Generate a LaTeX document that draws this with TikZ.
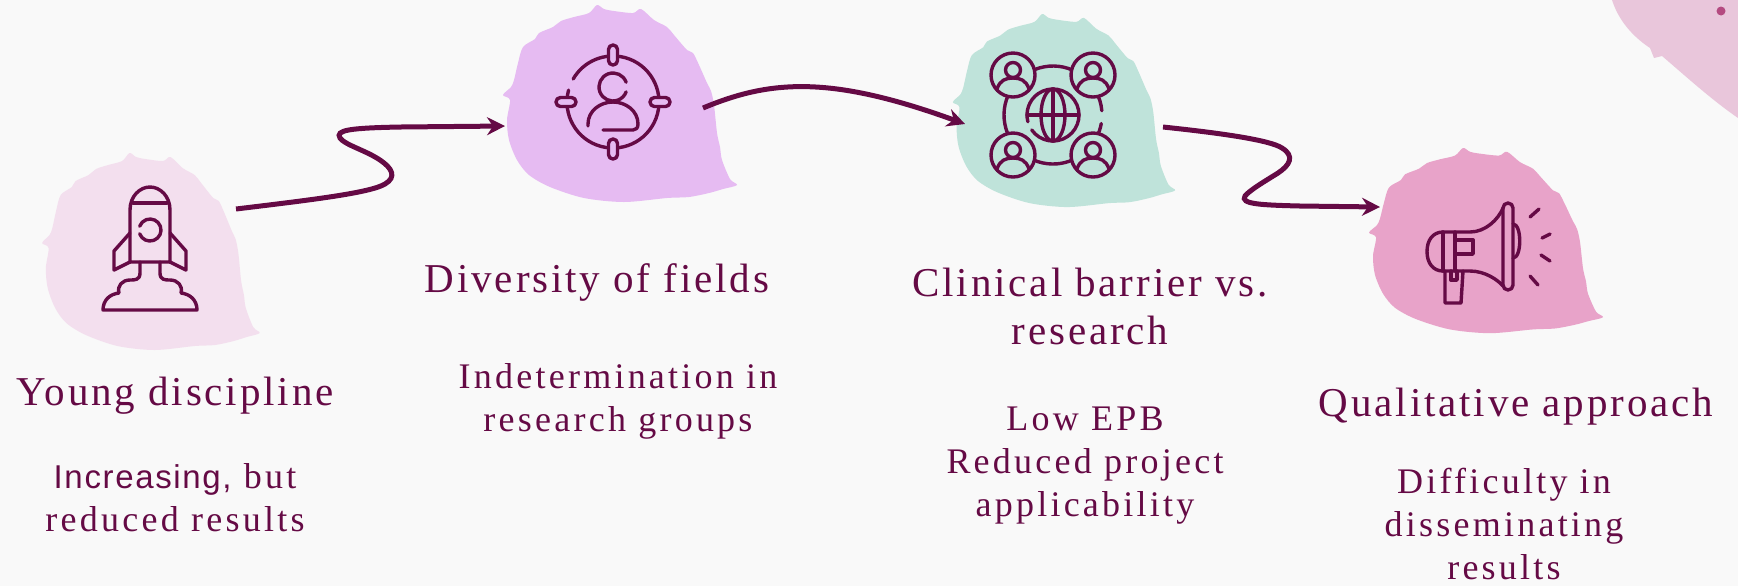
\documentclass[tikz,border=0pt]{standalone}
\usepackage{fontspec}
\setmainfont{Liberation Serif}
\newfontfamily\ttlfont[LetterSpace=7]{Liberation Serif}
\newfontfamily\subfont[LetterSpace=9]{Liberation Serif}
\newfontfamily\incfont[LetterSpace=5]{Liberation Sans}
\usetikzlibrary{arrows.meta}

\definecolor{plum}{HTML}{650A45}
\definecolor{paper}{HTML}{F9F9F9}
\definecolor{rocketpink}{HTML}{F3DFEE}
\definecolor{lilac}{HTML}{E6BBF2}
\definecolor{mint}{HTML}{BFE3DA}
\definecolor{rose}{HTML}{E8A3C9}
\definecolor{blush}{HTML}{E9C6DB}
\definecolor{dotpink}{HTML}{B44A80}

\tikzset{
  icon/.style={draw=plum, line width=1.7pt, line cap=round, line join=round},
  flow/.style={draw=plum, line width=2.5pt, -{Stealth[length=9pt,width=9pt,inset=3pt]}},
  title/.style={text=plum, font=\ttlfont\fontsize{20.5}{24}\selectfont, align=center, inner sep=0pt},
  note/.style={text=plum, font=\subfont\fontsize{18}{21.5}\selectfont, align=center, inner sep=0pt},
}

% brush splash: centre x, centre y, x scale, y scale, colour
\newcommand{\splash}[5]{%
  \fill[#5, shift={(#1,#2)}, xscale=#3, yscale=#4]
    plot[smooth cycle, tension=0.5] coordinates {
      (-96,58) (-84,66) (-80,72) (-66,78) (-58,84) (-45,88) (-30,92) (-22,100)
      (-15,96) (-5,94) (14,92) (22,96) (35,85) (48,78) (55,70) (68,55) (74,52)
      (80,40) (88,22) (92,14) (95,0) (98,-28) (101,-42) (103,-55) (111,-74)
      (118,-80) (104,-84) (90,-88) (70,-92) (48,-93) (5,-97) (-35,-93) (-69,-82)
      (-90,-70) (-102,-55) (-110,-35) (-112,-15) (-109,5) (-116,10) (-108,18)
      (-105,25) (-101,42)};}
% sans word inside a serif note
\newcommand{\sansword}[1]{{\incfont\fontsize{16.5}{21.5}\selectfont #1}}

\begin{document}
\begin{tikzpicture}[x=0.5pt, y=0.5pt]
\useasboundingbox (0,0) rectangle (1738,-586);
\fill[paper] (0,0) rectangle (1738,-586);

% splashes behind the icons
\splash{150}{-253}{0.93}{1.0}{rocketpink}
\splash{619}{-105}{1.0}{1.0}{lilac}
\splash{1063}{-112}{0.95}{0.98}{mint}
\splash{1485}{-242}{1.0}{0.94}{rose}

% corner splash
\fill[blush] (1612,0) .. controls (1620,-25) and (1638,-40) .. (1650,-48)
  -- (1654,-58) -- (1662,-56) .. controls (1690,-80) and (1712,-100) .. (1738,-118)
  -- (1738,0) -- cycle;
\fill[dotpink] (1721,-11) circle[radius=4.5];

% rocket
\begin{scope}[shift={(150,-250)}]
  \draw[icon] (-20,-12) -- (-20,40) .. controls (-20,54) and (-10,63) .. (0,63)
    .. controls (10,63) and (20,54) .. (20,40) -- (20,-12) -- cycle;
  \draw[icon] (-17,47) -- (17,47);
  \draw[icon] (0,20) ++(200:11) arc[start angle=200, end angle=520, radius=11];
  \draw[icon] (-20,17) -- (-36,-1) -- (-36,-20) -- (-20,-12);
  \draw[icon] (20,17) -- (36,-1) -- (36,-20) -- (20,-12);
  \draw[icon] (-10,-12) -- (-10,-23) .. controls (-10,-30) and (-15,-30) .. (-20,-30)
    .. controls (-28,-30) and (-33,-36) .. (-31,-43)
    .. controls (-40,-44) and (-47,-50) .. (-47,-60) -- (47,-60)
    .. controls (47,-50) and (40,-44) .. (31,-43)
    .. controls (33,-36) and (28,-30) .. (20,-30)
    .. controls (15,-30) and (10,-30) .. (10,-23) -- (10,-12);
\end{scope}

% target with person
\begin{scope}[shift={(613,-102)}]
  \draw[icon] (165:46) arc[start angle=165, end angle=510, radius=46];
  \foreach \a in {0,90,180,270}
    \draw[icon, fill=lilac, rotate=\a, rounded corners=2.2pt] (37,-4.5) rectangle (57,4.5);
  \draw[icon] (0,15) ++(20:14) arc[start angle=20, end angle=340, radius=14];
  \draw[icon] (-10,-28) -- (20,-28) .. controls (23,-28) and (25,-26) .. (25,-22)
    .. controls (25,-9) and (13,0) .. (0,0) .. controls (-13,0) and (-25,-9) .. (-25,-22) -- (-25,-24);
\end{scope}

% network around a globe
\begin{scope}[shift={(1053,-115)}]
  \draw[icon] (5:49) arc[start angle=5, end angle=350, radius=49];
  \foreach \sx/\sy in {-40/40, 40/40, -40/-40, 40/-40}{
    \begin{scope}[shift={(\sx,\sy)}]
      \draw[icon, fill=mint] (0,0) circle[radius=22];
      \draw[icon] (0,5) circle[radius=7.5];
      \draw[icon] (-16,-14) .. controls (-13,-5) and (-7,-3) .. (0,-3)
        .. controls (7,-3) and (13,-5) .. (16,-14);
    \end{scope}}
  \draw[icon] (215:26) arc[start angle=215, end angle=555, radius=26];
  \draw[icon] (0,0) ellipse[x radius=12, y radius=26];
  \draw[icon] (0,-26) -- (0,26);
  \draw[icon] (-26,0) -- (26,0);
\end{scope}

% megaphone
\begin{scope}[shift={(1480,-250)}]
  \draw[icon, rounded corners=2.5pt] (23,-40) rectangle (33,47);
  \draw[icon] (-37,18) .. controls (-47,18) and (-53,10) .. (-53,-1.5)
    .. controls (-53,-13) and (-47,-21) .. (-37,-21);
  \draw[icon] (-37,18) -- (-10,18) .. controls (5,18) and (18,30) .. (23,42);
  \draw[icon] (-37,-21) -- (-10,-21) .. controls (5,-21) and (18,-30) .. (23,-36);
  \draw[icon] (-37,18) -- (-37,-21);
  \draw[icon] (-25,18) -- (-25,-21);
  \draw[icon] (-25,10) rectangle (-7,-4);
  \draw[icon] (-35,-21) -- (-35,-53) -- (-19,-53) -- (-17,-21);
  \draw[icon] (-29,-21) -- (-29,-30) -- (-23,-30) -- (-23,-21);
  \draw[icon] (33,26) .. controls (42,26) and (42,-8) .. (33,-8);
  \draw[icon] (50,33) -- (59,41);
  \draw[icon] (62,12) -- (70,16);
  \draw[icon] (61,-5) -- (70,-11);
  \draw[icon] (50,-26) -- (58,-35);
\end{scope}

% connector ends
\coordinate (rocket-out) at (236,-209);
\coordinate (target-in) at (505,-126);
\coordinate (target-out) at (703,-108);
\coordinate (globe-in) at (965,-124);
\coordinate (globe-out) at (1163,-127);
\coordinate (horn-in) at (1380,-207);

\draw[flow] (rocket-out) .. controls (310,-200) and (370,-193) .. (385,-184)
  .. controls (397,-177) and (392,-168) .. (380,-160)
  .. controls (365,-150) and (345,-145) .. (340,-138)
  .. controls (335,-130) and (350,-128) .. (400,-127) -- (target-in);
\draw[flow] (target-out) .. controls (770,-80) and (830,-75) .. (globe-in);
\draw[flow] (globe-out) .. controls (1220,-133) and (1270,-140) .. (1282,-148)
  .. controls (1295,-156) and (1290,-165) .. (1278,-173)
  .. controls (1262,-183) and (1250,-190) .. (1245,-196)
  .. controls (1240,-204) and (1260,-205) .. (1300,-206) -- (horn-in);

% labels
\node[title] (young) at (175,-396) {Young discipline};
\node[note] (youngnote) at (175,-498) {\sansword{Increasing,} but\\reduced results};
\node[title] (fields) at (597,-282) {Diversity of fields};
\node[note] (fieldsnote) at (618,-401) {Indetermination in\\research groups};
\node[title] (clinic) at (1090,-306) {Clinical barrier vs.\\research};
\node[note] (clinicnote) at (1085,-466) {Low EPB\\Reduced project\\applicability};
\node[title] (quali) at (1516,-407) {Qualitative approach};
\node[note] (qualinote) at (1504,-524) {Difficulty in\\disseminating\\results};
\end{tikzpicture}
\end{document}
